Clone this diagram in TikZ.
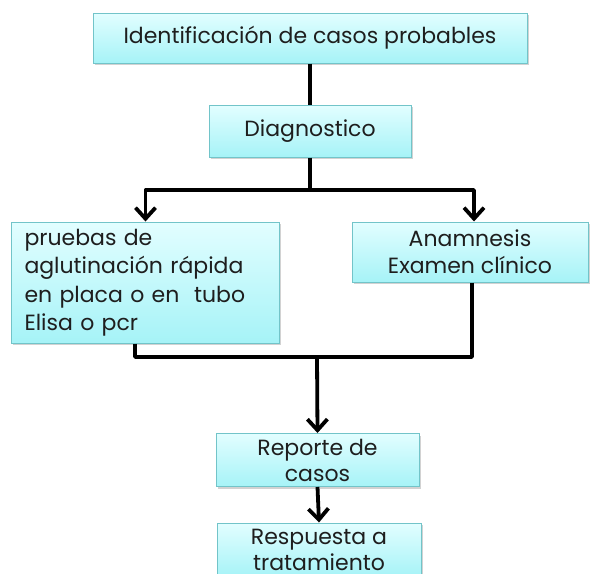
\documentclass[tikz,border=0pt]{standalone}
\usepackage{fontspec}
\setmainfont{Poppins}
\usetikzlibrary{arrows.meta,shadows}
\definecolor{boxtop}{HTML}{E2FEFF}
\definecolor{boxbot}{HTML}{A6F3F7}
\definecolor{boxedge}{HTML}{72C4C9}
\definecolor{textc}{HTML}{1E1E1E}
\begin{document}
\begin{tikzpicture}[x=1pt,y=-1pt,
  box/.style={draw=boxedge, line width=1pt, top color=boxtop, bottom color=boxbot,
    drop shadow={shadow xshift=1.5pt, shadow yshift=-2pt, opacity=0.35},
    inner sep=0pt, font=\fontsize{22}{27.5}\selectfont, text=textc, align=center},
  conn/.style={line width=3.8pt, draw=black, line join=round},
  arr/.style={conn, -{Straight Barb[length=11pt, width=20pt, line width=3.8pt]}}]
\clip (0,0) rectangle (594,573);
\fill[white] (0,0) rectangle (594,573);
\node[box, minimum width=434pt, minimum height=50pt] (b1) at (310,38) {Identificación de casos probables};
\node[box, minimum width=202pt, minimum height=52pt] (b2) at (310,131) {Diagnostico};
\node[box, minimum width=268pt, minimum height=121pt, text width=242pt, align=left, font=\fontsize{22}{28.5}\selectfont] (lb) at (145.5,282.5) {pruebas de\\aglutinación rápida\\en placa o en\ \ tubo\\Elisa o pcr};
\node[box, minimum width=236pt, minimum height=60pt, font=\fontsize{22}{27}\selectfont] (rb) at (470,252) {Anamnesis\\Examen clínico};
\node[box, minimum width=203pt, minimum height=53pt, font=\fontsize{22}{26}\selectfont] (rep) at (317.5,460) {Reporte de\\casos};
\node[box, minimum width=204pt, minimum height=54pt, font=\fontsize{22}{26}\selectfont] (res) at (319,550) {Respuesta a\\tratamiento};
\coordinate (j1) at (310,190);
\coordinate (j2) at (317,357);
\draw[conn] (b1.south) -- (b2.north);
\draw[conn] (b2.south) -- (j1);
\draw[arr] (j1) -| (lb.north);
\draw[arr] (j1) -| ([xshift=4pt]rb.north);
\draw[conn] ([xshift=-10.5pt]lb.south) |- (j2);
\draw[conn] ([xshift=2pt]rb.south) |- (j2);
\draw[arr] (j2) -- (rep.north);
\draw[arr] (rep.south) -- (res.north);
\end{tikzpicture}
\end{document}
